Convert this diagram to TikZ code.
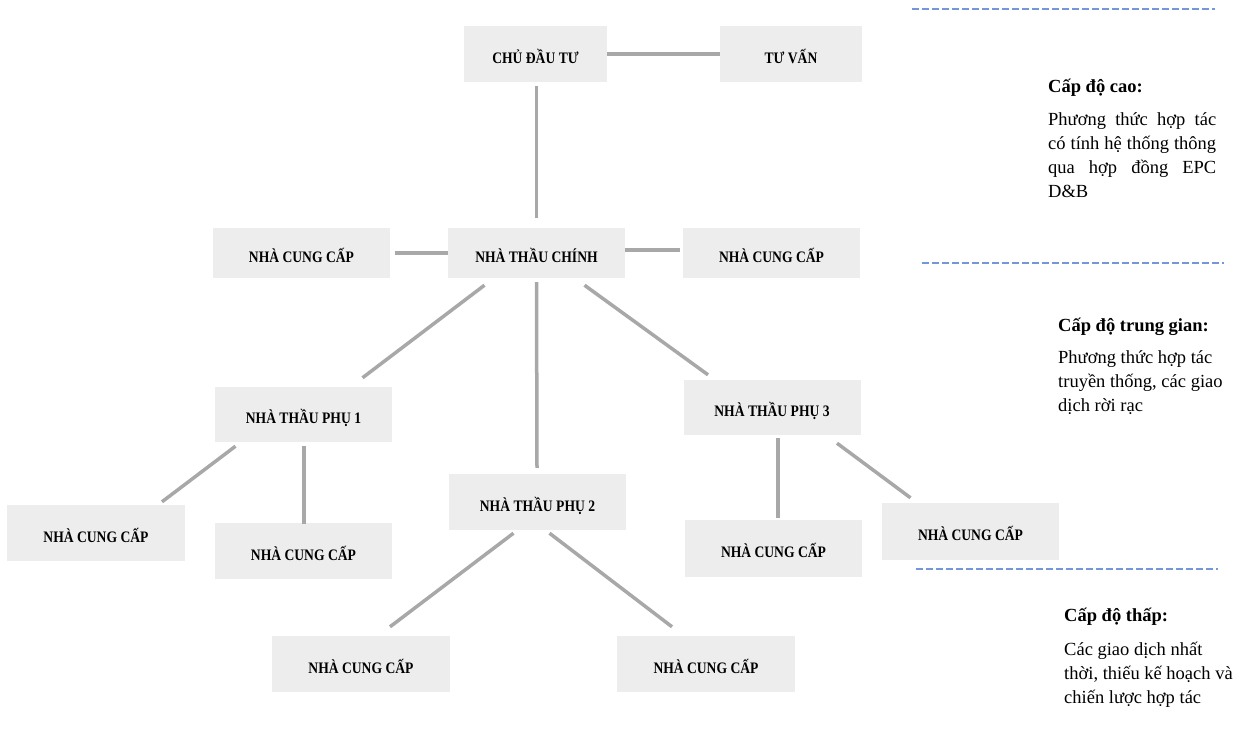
\documentclass[tikz,border=0pt]{standalone}
\usepackage{fontspec}
\setmainfont{Liberation Serif}
\newfontfamily\boxfont[FakeStretch=0.85]{Liberation Serif}
\usetikzlibrary{positioning}

\definecolor{boxgray}{HTML}{EDEDED}
\definecolor{linkgray}{HTML}{A8A8A8}
\definecolor{sepblue}{HTML}{7397DA}

\begin{document}
\begin{tikzpicture}[x=1pt, y=-1pt,
    party/.style={fill=boxgray, minimum width=177pt, minimum height=55pt, inner sep=0pt,
                  text height=20pt, text depth=2pt,
                  font=\boxfont\fontsize{16}{18}\selectfont\bfseries},
    link/.style={draw=linkgray, line width=3.5pt},
    levelhead/.style={anchor=base west, inner sep=0pt, font=\fontsize{18.5}{24}\selectfont\bfseries},
    levelbody/.style={anchor=north west, inner sep=0pt, font=\fontsize{18.5}{24}\selectfont}]
    \useasboundingbox (0,0) rectangle (1240,742);

    % Top level
    \node[party, minimum width=143pt, minimum height=56pt] (cdt) at (535.5,54) {CHỦ ĐẦU TƯ};
    \node[party, minimum width=142pt, minimum height=56pt] (tv)  at (791,54)  {TƯ VẤN};

    % Main contractor row
    \node[party, minimum height=50pt] (ntc)  at (536.5,253) {NHÀ THẦU CHÍNH};
    \node[party, minimum height=50pt] (nccl) at (301.5,253) {NHÀ CUNG CẤP};
    \node[party, minimum height=50pt] (nccr) at (771.5,253) {NHÀ CUNG CẤP};

    % Subcontractors
    \node[party] (ntp1) at (303.5,414.5) {NHÀ THẦU PHỤ 1};
    \node[party, minimum height=56pt] (ntp2) at (537.5,502) {NHÀ THẦU PHỤ 2};
    \node[party] (ntp3) at (772,407.5) {NHÀ THẦU PHỤ 3};

    % Suppliers of the subcontractors
    \node[party, minimum width=178pt, minimum height=56pt] (ncc1a) at (96,533)   {NHÀ CUNG CẤP};
    \node[party, minimum height=56pt] (ncc1b) at (303.5,551)  {NHÀ CUNG CẤP};
    \node[party, minimum width=178pt, minimum height=56pt] (ncc2a) at (361,664)  {NHÀ CUNG CẤP};
    \node[party, minimum width=178pt, minimum height=56pt] (ncc2b) at (706,664)  {NHÀ CUNG CẤP};
    \node[party, minimum height=57pt] (ncc3a) at (773.5,548.5) {NHÀ CUNG CẤP};
    \node[party, minimum height=57pt] (ncc3b) at (970.5,531.5) {NHÀ CUNG CẤP};

    % Connectors
    \draw[link] (cdt) -- (tv);
    \draw[link] ([xshift=1pt,yshift=-4pt]cdt.south) -- ([yshift=10pt]ntc.north);
    \draw[link] ([xshift=5pt]nccl.east) -- (ntc.west);
    \draw[link] ([yshift=3pt]ntc.east) -- ([xshift=-3pt,yshift=3pt]nccr.west);
    \draw[link] ([xshift=-52pt,yshift=-7pt]ntc.south) -- ([xshift=59pt,yshift=9pt]ntp1.north);
    \draw[link] ([yshift=-4pt]ntc.south) -- ([xshift=-0.5pt,yshift=6pt]ntp2.north);
    \draw[link] ([xshift=48pt,yshift=-7pt]ntc.south) -- ([xshift=-64pt,yshift=5pt]ntp3.north);
    \draw[link] ([xshift=-68pt,yshift=-4pt]ntp1.south) -- ([xshift=66pt,yshift=3pt]ncc1a.north);
    \draw[link] ([xshift=0.5pt,yshift=-4pt]ntp1.south) -- ([xshift=0.5pt,yshift=-1pt]ncc1b.north);
    \draw[link] ([xshift=-24pt,yshift=-3pt]ntp2.south) -- ([xshift=29pt,yshift=9pt]ncc2a.north);
    \draw[link] ([xshift=12pt,yshift=-3pt]ntp2.south) -- ([xshift=-34pt,yshift=9pt]ncc2b.north);
    \draw[link] ([xshift=6pt,yshift=-3pt]ntp3.south) -- ([xshift=4.5pt,yshift=2pt]ncc3a.north);
    \draw[link] ([xshift=65pt,yshift=-8pt]ntp3.south) -- ([xshift=-60pt,yshift=5pt]ncc3b.north);

    % Level separators
    \foreach \ya/\xa/\xb in {9/912/1215, 263/922/1224, 569/916/1218}
        \draw[sepblue, line width=1.5pt, dash pattern=on 7pt off 3pt] (\xa,\ya) -- (\xb,\ya);

    % Level descriptions
    \node[levelhead] (hcao) at (1048,92) {Cấp độ cao:};
    \node[levelbody, text width=168pt, align=justify] (bcao) at (1048,112)
        {Phương thức hợp tác\linebreak có tính hệ thống thông\linebreak qua hợp đồng EPC\linebreak D\&B};

    \node[levelhead] (htg) at (1058,331) {Cấp độ trung gian:};
    \node[levelbody, align=left] (btg) at (1058,350)
        {Phương thức hợp tác\\ truyền thống, các giao\\ dịch rời rạc};

    \node[levelhead] (hthap) at (1064,621) {Cấp độ thấp:};
    \node[levelbody, align=left] (bthap) at (1064,642)
        {Các giao dịch nhất\\ thời, thiếu kế hoạch và\\ chiến lược hợp tác};
\end{tikzpicture}
\end{document}
